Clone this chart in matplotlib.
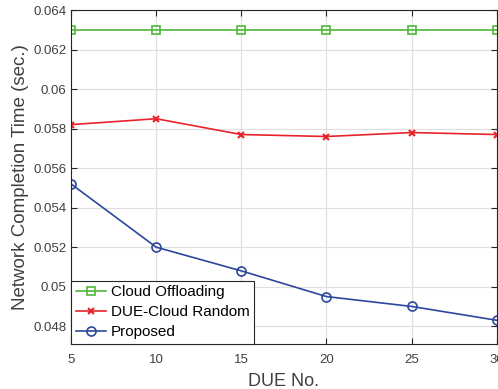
import matplotlib
matplotlib.use('Agg')
import matplotlib.pyplot as plt

plt.rcParams['font.family'] = ['Liberation Sans', 'DejaVu Sans']

due_no = [5, 10, 15, 20, 25, 30]
cloud_offloading = [0.0630, 0.0630, 0.0630, 0.0630, 0.0630, 0.0630]
due_cloud_random = [0.0582, 0.0585, 0.0577, 0.0576, 0.0578, 0.0577]
proposed = [0.0552, 0.0520, 0.0508, 0.0495, 0.0490, 0.0483]
yticks = [0.048, 0.05, 0.052, 0.054, 0.056, 0.058, 0.06, 0.062, 0.064]
ytick_labels = ['0.048', '0.05', '0.052', '0.054', '0.056', '0.058', '0.06', '0.062', '0.064']

fig = plt.figure(figsize=(4.98, 3.89), dpi=100)
ax = fig.add_axes([0.1426, 0.1157, 0.855, 0.8585])

ax.plot(due_no, cloud_offloading, color='#4fb83a', marker='s', markersize=6,
        markerfacecolor='none', markeredgewidth=1.2, linewidth=1.2, label='Cloud Offloading')
ax.plot(due_no, due_cloud_random, color='#e8232b', marker='x', markersize=5,
        markeredgewidth=1.5, linewidth=1.2, label='DUE-Cloud Random')
ax.plot(due_no, proposed, color='#2c479c', marker='o', markersize=6.5,
        markerfacecolor='none', markeredgewidth=1.2, linewidth=1.2, label='Proposed')

ax.set_xlim(5, 30)
ax.set_ylim(0.0471, 0.064)
ax.set_xticks(due_no)
ax.set_yticks(yticks)
ax.set_yticklabels(ytick_labels)
ax.grid(True, color='#e0e0e0', linewidth=0.9)
ax.set_axisbelow(True)
ax.tick_params(direction='in', top=True, right=True, labelsize=9.5,
               colors='#262626', labelcolor='#404040', length=4)
ax.tick_params(axis='x', pad=7)
for s in ax.spines.values():
    s.set_color('#262626')
    s.set_linewidth(0.8)

ax.set_xlabel('DUE No.', fontsize=13, color='#404040', labelpad=5)
ax.set_ylabel('Network Completion Time (sec.)', fontsize=13.5, color='#404040', labelpad=3)

leg = ax.legend(loc='lower left', borderaxespad=0, fontsize=11, fancybox=False,
                framealpha=1, edgecolor='#262626', handlelength=2.0,
                handletextpad=0.3, labelspacing=0.4, borderpad=0.3)
leg.get_frame().set_linewidth(0.8)

fig.savefig('out.png', dpi=100)
